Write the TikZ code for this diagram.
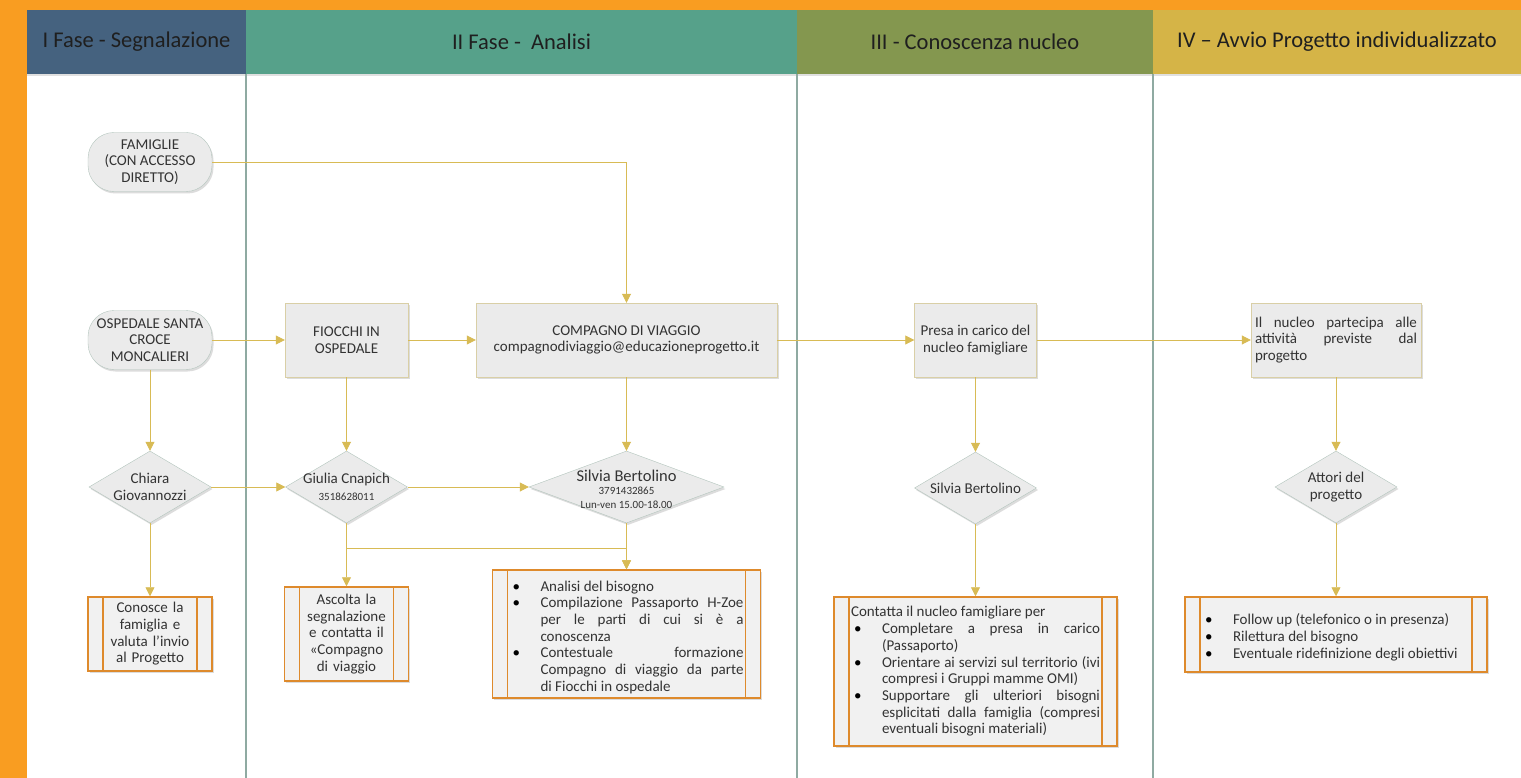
\documentclass[tikz,border=0pt]{standalone}
\usepackage{fontspec}
\setmainfont{Carlito}
\usetikzlibrary{positioning,shapes.geometric,arrows.meta,shadows}

\definecolor{bgorange}{HTML}{F99D21}
\definecolor{laneA}{HTML}{45627F}
\definecolor{laneB}{HTML}{56A18A}
\definecolor{laneC}{HTML}{84974F}
\definecolor{laneD}{HTML}{D5B447}
\definecolor{ruleline}{HTML}{8FAAA2}
\definecolor{linkgold}{HTML}{D8BB55}
\definecolor{boxfill}{HTML}{EBEBEB}
\definecolor{boxedge}{HTML}{D9CFA6}
\definecolor{shapeedge}{HTML}{B3C5BD}
\definecolor{procedge}{HTML}{DE8A2C}
\definecolor{procfill}{HTML}{F1F1F1}

\hyphenpenalty=10000
\exhyphenpenalty=10000

% bullet line for the lists in the boxes
\newcommand{\punto}{\par\noindent\hangindent=31pt\hangafter=1\hbox to 31pt{\hskip3pt\textcolor{black}{\textbullet}\hfil}}

\begin{document}
\begin{tikzpicture}[x=1pt,y=-1pt,
    lanehead/.style={minimum height=64pt,inner sep=0pt,font=\fontsize{22.5}{24}\selectfont,text=black!88},
    lanerule/.style={draw=ruleline,line width=1.5pt},
    txt/.style={font=\fontsize{15}{16.7}\selectfont,text=black!80},
    small/.style={font=\fontsize{11}{13.5}\selectfont,text=black!80},
    softshadow/.style={drop shadow={shadow xshift=1.5pt,shadow yshift=-2pt,opacity=0.3,fill=black!45}},
    start/.style={txt,draw=shapeedge,fill=boxfill,rounded corners=26pt,minimum width=124pt,minimum height=59pt,inner sep=0pt,align=center,softshadow},
    task/.style={txt,draw=boxedge,fill=boxfill,minimum height=74pt,inner sep=2pt,align=center,softshadow},
    decision/.style={diamond,draw=shapeedge,fill=boxfill,minimum width=122pt,minimum height=72pt,inner sep=0pt,softshadow},
    procbox/.style={txt,draw=procedge,line width=1.5pt,fill=procfill,inner xsep=17pt,inner ysep=3pt,softshadow,
        path picture={\draw[procedge,line width=1.5pt]
            ([xshift=15pt]path picture bounding box.north west) -- ([xshift=15pt]path picture bounding box.south west)
            ([xshift=-15pt]path picture bounding box.north east) -- ([xshift=-15pt]path picture bounding box.south east);}},
    link/.style={draw=linkgold,line width=0.8pt},
    arr/.style={link,-{Triangle[length=9pt,width=9pt]}}
    ]
    \useasboundingbox (0,0) rectangle (1521,778);
    \fill[bgorange] (0,0) rectangle (1521,778);
    \fill[white] (27,10) rectangle (1521,778);

    % lane headers
    \node[lanehead,fill=laneA,minimum width=219pt] (headA) at (136.5,42) {I Fase - Segnalazione};
    \node[lanehead,fill=laneB,minimum width=551pt] (headB) at (521.5,42) {II Fase -\ \ Analisi};
    \node[lanehead,fill=laneC,minimum width=356pt] (headC) at (975,42) {III - Conoscenza nucleo};
    \node[lanehead,fill=laneD,minimum width=368pt] (headD) at (1337,42) {IV -- Avvio Progetto individualizzato};
    \fill[black!12] (27,74) rectangle (1521,76.5);
    \draw[lanerule] (headA.south east) -- ++(0,704);
    \draw[lanerule] (headB.south east) -- ++(0,704);
    \draw[lanerule] (headC.south east) -- ++(0,704);

    % I fase
    \node[start] (famiglie) at (150,162) {FAMIGLIE\\(CON ACCESSO\\DIRETTO)};
    \node[start] (ospedale) at (150,340) {OSPEDALE SANTA\\CROCE\\MONCALIERI};
    \node[decision,label={[txt,align=center]center:{Chiara\\Giovannozzi}}] (chiara) at (150,487) {};
    \node[procbox,minimum width=124pt,minimum height=74pt,text width=90pt,align=center] (conosce) at (150,634)
        {Conosce la famiglia e valuta l’invio al Progetto};

    % II fase
    \node[task,minimum width=123pt] (fiocchi) at (346.5,340) {FIOCCHI IN\\OSPEDALE};
    \node[task,minimum width=301pt] (compagno) at (626.5,340) {COMPAGNO DI VIAGGIO\\compagnodiviaggio@educazioneprogetto.it};
    \node[decision,label={[txt,align=center]center:{Giulia Cnapich\\{\fontsize{11}{13}\selectfont 3518628011}}}] (giulia) at (346.5,487) {};
    \node[decision,minimum width=195pt,label={[small,align=center,yshift=-2pt]center:{{\fontsize{16.5}{13.5}\selectfont Silvia Bertolino}\\3791432865\\Lun-ven 15.00-18.00}}] (silvia) at (626.5,487) {};
    \node[procbox,minimum width=124pt,minimum height=94pt,text width=90pt,align=center] (ascolta) at (346.5,634)
        {Ascolta la segnalazione e contatta il «Compagno di viaggio};
    \node[procbox,minimum width=268pt,minimum height=128pt,text width=234pt,align=justify] (analisi) at (626.5,634)
        {\punto Analisi del bisogno
         \punto Compilazione Passaporto H-Zoe\linebreak per le parti di cui si è a\linebreak conoscenza
         \punto Contestuale formazione\linebreak Compagno di viaggio da parte\linebreak di Fiocchi in ospedale\par};

    % III fase
    \node[task,minimum width=122pt] (presa) at (975.5,340) {Presa in carico del\\nucleo famigliare};
    \node[decision,label={[txt,align=center]center:{Silvia Bertolino}}] (silviab) at (975.5,488) {};
    \node[procbox,minimum width=283pt,minimum height=149pt,text width=249pt,align=justify] (contatta) at (975.5,671.5)
        {\noindent Contatta il nucleo famigliare per
         \punto Completare a presa in carico\linebreak (Passaporto)
         \punto Orientare ai servizi sul territorio (ivi\linebreak compresi i Gruppi mamme OMI)
         \punto Supportare gli ulteriori bisogni\linebreak esplicitati dalla famiglia (compresi\linebreak eventuali bisogni materiali)\par};

    % IV fase
    \node[task,minimum width=170pt,text width=162pt,inner xsep=4pt,align=justify] (nucleo) at (1336,340)
        {Il nucleo partecipa alle\linebreak attività previste dal\linebreak progetto\par};
    \node[decision,label={[txt,align=center]center:{Attori del\\progetto}}] (attori) at (1336,487) {};
    \node[procbox,minimum width=302pt,minimum height=75pt,text width=268pt,align=justify] (followup) at (1336,634.5)
        {\punto Follow up (telefonico o in presenza)
         \punto Rilettura del bisogno
         \punto Eventuale ridefinizione degli obiettivi\par};

    % connectors
    \draw[arr] (famiglie.east) -| (compagno.north);
    \draw[arr] (ospedale.east) -- (fiocchi.west);
    \draw[arr] (fiocchi.east) -- (compagno.west);
    \draw[arr] (compagno.east) -- (presa.west);
    \draw[arr] (presa.east) -- (nucleo.west);
    \draw[arr] (ospedale.south) -- (chiara.north);
    \draw[arr] (fiocchi.south) -- (giulia.north);
    \draw[arr] (compagno.south) -- (silvia.north);
    \draw[arr] (presa.south) -- (silviab.north);
    \draw[arr] (nucleo.south) -- (attori.north);
    \draw[arr] (chiara.east) -- (giulia.west);
    \draw[arr] (giulia.east) -- (silvia.west);
    \draw[arr] (chiara.south) -- (conosce.north);
    \draw[arr] (giulia.south) -- (ascolta.north);
    \coordinate (bivio) at (346.5,548);
    \draw[arr] (bivio) -| (analisi.north);
    \draw[arr] (silvia.south) -- (analisi.north);
    \draw[arr] (silviab.south) -- (contatta.north);
    \draw[arr] (attori.south) -- (followup.north);
\end{tikzpicture}
\end{document}
